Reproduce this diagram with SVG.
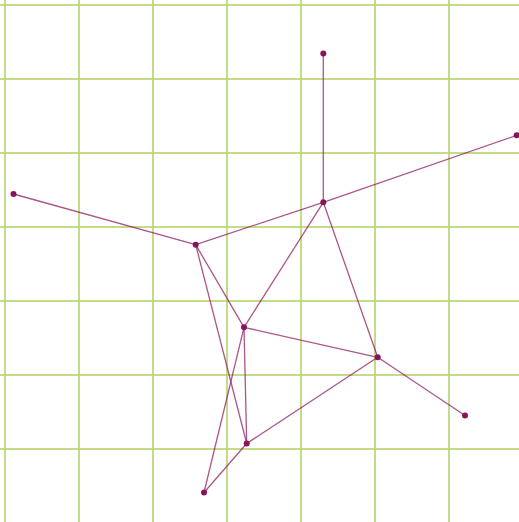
<svg xmlns="http://www.w3.org/2000/svg" width="519" height="522" viewBox="0 0 519 522">
<style>
.grid line{stroke:#b5d36a;stroke-opacity:0.8;stroke-width:2}
.edges line{stroke:#8e1d62;stroke-opacity:0.75;stroke-width:1.3}
.node circle{fill:#8a1258}
</style>
<rect width="519" height="522" fill="#fff"/>
<g class="grid">
<line x1="5" y1="0" x2="5" y2="522"/>
<line x1="79" y1="0" x2="79" y2="522"/>
<line x1="153" y1="0" x2="153" y2="522"/>
<line x1="227" y1="0" x2="227" y2="522"/>
<line x1="301" y1="0" x2="301" y2="522"/>
<line x1="375" y1="0" x2="375" y2="522"/>
<line x1="449" y1="0" x2="449" y2="522"/>
<line x1="0" y1="5" x2="519" y2="5"/>
<line x1="0" y1="79" x2="519" y2="79"/>
<line x1="0" y1="153" x2="519" y2="153"/>
<line x1="0" y1="227" x2="519" y2="227"/>
<line x1="0" y1="301" x2="519" y2="301"/>
<line x1="0" y1="375" x2="519" y2="375"/>
<line x1="0" y1="449" x2="519" y2="449"/>
</g>
<g class="edges" id="connectors">
<line x1="323.3" y1="202.3" x2="323.3" y2="53.5"/>
<line x1="323.3" y1="202.3" x2="516.7" y2="135.3"/>
<line x1="195.7" y1="244.7" x2="13.5" y2="194"/>
<line x1="195.7" y1="244.7" x2="323.3" y2="202.3"/>
<line x1="323.3" y1="202.3" x2="244" y2="327.3"/>
<line x1="323.3" y1="202.3" x2="377.7" y2="357.3"/>
<line x1="195.7" y1="244.7" x2="244" y2="327.3"/>
<line x1="195.7" y1="244.7" x2="246.7" y2="443.5"/>
<line x1="244" y1="327.3" x2="377.7" y2="357.3"/>
<line x1="244" y1="327.3" x2="246.7" y2="443.5"/>
<line x1="244" y1="327.3" x2="204" y2="492.5"/>
<line x1="377.7" y1="357.3" x2="246.7" y2="443.5"/>
<line x1="377.7" y1="357.3" x2="465" y2="415.5"/>
<line x1="246.7" y1="443.5" x2="204" y2="492.5"/>
</g>
<g id="n1" class="node"><circle cx="323.3" cy="53.5" r="3"/></g>
<g id="n2" class="node"><circle cx="516.7" cy="135.3" r="3"/></g>
<g id="n3" class="node"><circle cx="13.5" cy="194" r="3"/></g>
<g id="n4" class="node"><circle cx="195.7" cy="244.7" r="3"/></g>
<g id="n5" class="node"><circle cx="323.3" cy="202.3" r="3"/></g>
<g id="n6" class="node"><circle cx="244" cy="327.3" r="3"/></g>
<g id="n7" class="node"><circle cx="377.7" cy="357.3" r="3"/></g>
<g id="n8" class="node"><circle cx="465" cy="415.5" r="3"/></g>
<g id="n9" class="node"><circle cx="246.7" cy="443.5" r="3"/></g>
<g id="n10" class="node"><circle cx="204" cy="492.5" r="3"/></g>
</svg>
